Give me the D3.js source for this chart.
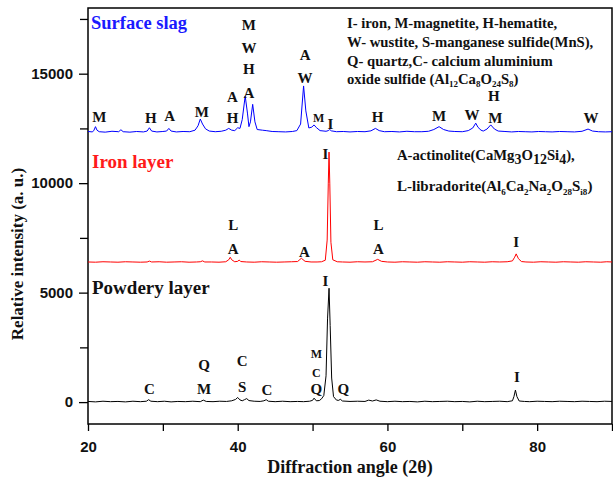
<!DOCTYPE html>
<html>
<head>
<meta charset="utf-8">
<script src="https://cdn.jsdelivr.net/npm/d3@7"></script>
<style>
  body {margin: 0; background: #fff;}
  text {font-family: "Liberation Serif", "Times New Roman", serif; font-weight: bold;}
  .tick text {font-family: "Liberation Sans", Arial, sans-serif; font-weight: bold; font-size: 15px;}
</style>
</head>
<body>
<script>
// XRD scans: [diffraction angle 2θ, intensity]
const slagScan = [
  [20,12360],[20.6,12340],[20.8,12420],[21.0,12580],[21.2,12420],[21.5,12350],[22.3,12330],[23.2,12370],
  [24.1,12350],[24.4,12440],[24.7,12350],[25.6,12330],[26.5,12360],[27.4,12340],[27.9,12380],[28.2,12530],
  [28.5,12380],[29.2,12340],[30.0,12360],[30.5,12380],[30.8,12500],[31.1,12380],[31.8,12340],[32.7,12360],
  [33.6,12350],[34.3,12420],[34.7,12620],[35.0,12930],[35.3,12700],[35.7,12480],[36.2,12380],[37.0,12350],
  [37.8,12370],[38.4,12420],[38.8,12500],[39.2,12420],[39.6,12400],[40.0,12530],[40.3,12500],[40.6,12900],
  [41.0,13980],[41.3,13200],[41.5,12580],[41.7,12800],[42.0,13600],[42.3,12800],[42.6,12450],[43.3,12420],
  [43.8,12400],[44.6,12360],[45.5,12350],[46.4,12340],[47.3,12360],[47.9,12400],[48.4,12700],[48.8,14440],
  [49.1,13300],[49.5,12520],[49.9,12560],[50.2,12660],[50.5,12540],[51.0,12400],[51.8,12370],[52.1,12400],
  [52.3,12450],[52.5,12390],[53.2,12350],[54.1,12360],[55.0,12340],[56.0,12360],[57.0,12350],[57.8,12390],
  [58.4,12500],[58.9,12400],[59.6,12350],[60.6,12360],[61.6,12340],[62.6,12370],[63.6,12350],[64.6,12350],
  [65.5,12370],[66.2,12450],[66.9,12580],[67.5,12450],[68.2,12380],[69.0,12360],[70.0,12350],[70.8,12400],
  [71.4,12520],[71.8,12740],[72.1,12550],[72.5,12420],[72.8,12380],[73.3,12470],[73.8,12660],[74.3,12470],
  [74.8,12380],[75.7,12360],[76.6,12340],[77.5,12360],[78.4,12350],[79.3,12340],[80.2,12360],[81.1,12350],
  [82.0,12340],[83.0,12360],[84.0,12350],[85.0,12340],[86.0,12370],[86.8,12470],[87.4,12380],[88.2,12350],
  [89.1,12340],[90,12350]
]
const ironScan = [
  [20,6400],[21,6390],[22,6410],[23,6400],[24,6390],[25,6410],[26,6400],[27,6390],[27.9,6400],[28.2,6440],
  [28.5,6400],[29.5,6410],[30.5,6390],[31.5,6400],[32.5,6410],[33.5,6390],[34.5,6400],[35.0,6410],[35.3,6450],
  [35.6,6400],[36.5,6400],[37.5,6390],[38.4,6410],[38.8,6500],[39.0,6615],[39.2,6500],[39.6,6410],[40.0,6430],
  [40.2,6490],[40.4,6420],[41.2,6400],[42.2,6390],[43.2,6410],[44.2,6400],[45.2,6390],[46.2,6400],[47.2,6410],
  [48.0,6420],[48.5,6570],[49.0,6430],[49.8,6400],[50.6,6400],[51.2,6410],[51.7,6480],[51.95,7400],[52.1,10000],
  [52.2,11420],[52.3,10000],[52.45,7300],[52.7,6500],[53.3,6410],[54.0,6400],[55,6390],[56,6410],[57,6400],
  [58.0,6410],[58.7,6520],[59.2,6430],[60,6400],[61,6390],[62,6410],[63,6400],[64,6390],[65,6410],[66,6400],
  [67,6390],[68,6410],[69,6400],[70,6390],[71,6410],[72,6400],[73,6390],[74,6410],[75,6400],[76,6410],
  [76.7,6450],[77.0,6620],[77.2,6770],[77.5,6550],[77.9,6420],[78.5,6400],[79.5,6390],[80.5,6410],[81.5,6400],
  [82.5,6390],[83.5,6410],[84.5,6400],[85.5,6390],[86.5,6410],[87.5,6400],[88.5,6390],[89.3,6410],[90,6400]
]
const powderScan = [
  [20,30],[21,10],[22,40],[23,20],[24,30],[25,10],[26,40],[27,20],[27.8,40],[28.1,110],[28.4,40],[29.3,20],
  [30.2,40],[31.1,10],[32.0,30],[33.0,20],[34.0,40],[35.0,20],[35.4,90],[35.8,30],[36.7,20],[37.6,40],
  [38.5,30],[39.2,60],[39.7,120],[40.0,210],[40.3,100],[40.6,60],[40.9,110],[41.2,160],[41.5,70],[42.2,40],
  [43.0,30],[43.5,60],[43.8,110],[44.1,40],[45.0,20],[46,40],[47,20],[48,30],[48.8,20],[49.6,40],[50.0,80],
  [50.2,180],[50.5,60],[50.9,70],[51.2,150],[51.5,300],[51.8,1200],[52.0,3800],[52.2,5200],[52.35,3500],
  [52.55,1100],[52.8,250],[53.2,90],[53.5,80],[53.7,130],[54.0,50],[55,30],[56,40],[57,30],[57.5,90],[58.0,50],
  [58.5,100],[59,40],[60,20],[61,40],[62,20],[63,30],[64,10],[65,40],[66,20],[67,30],[68,40],[69,20],[70,30],
  [71,10],[72,40],[73,20],[74,30],[75,40],[76,20],[76.7,60],[76.9,250],[77.1,550],[77.3,250],[77.6,50],
  [78.3,30],[79,20],[80,40],[81,30],[82,20],[83,40],[84,30],[85,20],[86,40],[87,30],[88,20],[89,40],[90,30]
]

// phase labels: [angle, intensity at text baseline, letter]
const slagLabels = [
  [21.5,12800,'M'],[28.4,12750,'H'],[30.9,12860,'A'],[35.2,13000,'M'],[39.3,13690,'A'],[39.3,12730,'H'],
  [41.5,17000,'M'],[41.5,15950,'W'],[41.5,15000,'H'],[41.5,13910,'A'],[49.0,15630,'A'],[49.0,14580,'W'],
  [52.4,12480,'I'],[58.7,12800,'H'],[66.9,12840,'M'],[71.3,12890,'W'],[74.2,13740,'H'],[74.4,12750,'M'],
  [87.2,12750,'W']
]
const slagSmallLabels = [[50.8,12800,'M']]
const ironLabels = [
  [51.7,11120,'I'],[39.4,7860,'L'],[39.4,6770,'A'],[48.9,6630,'A'],[58.8,7860,'L'],[58.8,6770,'A'],[77.2,7090,'I']
]
const powderLabels = [
  [51.7,5300,'I'],[28.2,380,'C'],[35.5,1470,'Q'],[35.5,380,'M'],[40.6,1630,'C'],[40.6,460,'S'],
  [43.9,330,'C'],[50.5,380,'Q'],[54.1,380,'Q'],[77.3,930,'I']
]
const powderSmallLabels = [[50.5,2010,'M'],[50.5,1160,'C']]

const xTicks = [20, 30, 40, 50, 60, 70, 80, 90]
const yMajorTicks = [0, 5000, 10000, 15000]
const yMinorTicks = [2500, 7500, 12500, 17500]

const phaseKey = [
  'I- iron, M-magnetite, H-hematite,',
  'W- wustite, S-manganese sulfide(MnS),',
  'Q- quartz,C- calcium aluminium',
  'oxide sulfide (Al_{12}Ca_{8}O_{24}S_{8})'
]
const ironKey = ['A-actinolite(CaMg_{3}O_{12}Si_{4}),', 'L-libradorite(Al_{6}Ca_{2}Na_{2}O_{28}S_{i8})']

const svg = d3.select('body').append('svg').attr('width', 613).attr('height', 477)
const margin = {top: 8, right: 1, bottom: 53, left: 88}
const width = 613 - margin.left - margin.right
const height = 477 - margin.top - margin.bottom

const x = d3.scaleLinear().domain([20, 90]).range([margin.left, margin.left + width])
const y = d3.scaleLinear().domain([-1000, 18000]).range([margin.top + height, margin.top])

// axes
svg.append('g').attr('transform', `translate(0,${margin.top + height})`)
  .call(d3.axisBottom(x).tickValues(xTicks).tickSize(7).tickPadding(10)
    .tickFormat(d => d % 20 === 0 && d < 90 ? d : ''))
svg.append('g').attr('transform', `translate(${margin.left},0)`)
  .call(d3.axisLeft(y).tickValues(yMajorTicks).tickSize(9).tickPadding(6).tickFormat(d3.format('d')))
svg.append('g').attr('transform', `translate(${margin.left},0)`)
  .call(d3.axisLeft(y).tickValues(yMinorTicks).tickSize(8).tickFormat(''))
svg.selectAll('.domain').remove()
svg.selectAll('.tick line').attr('stroke', '#000').attr('stroke-width', 1.3)
svg.selectAll('.tick text').attr('fill', '#111')

// frame
svg.append('rect')
  .attr('x', margin.left).attr('y', margin.top)
  .attr('width', width).attr('height', height)
  .attr('fill', 'none').attr('stroke', '#000').attr('stroke-width', 1.5)

const line = d3.line().x(d => x(d[0])).y(d => y(d[1]))
const scans = [
  {data: slagScan, color: '#0000ff'},
  {data: ironScan, color: '#ff0000'},
  {data: powderScan, color: '#000'}
]
svg.append('g').selectAll('path').data(scans).enter().append('path')
  .attr('d', d => line(d.data))
  .attr('fill', 'none')
  .attr('stroke', d => d.color)
  .attr('stroke-width', 1)

// peak letters
function letters(data, size) {
  svg.append('g').selectAll('text').data(data).enter().append('text')
    .attr('x', d => x(d[0])).attr('y', d => y(d[1]))
    .attr('text-anchor', 'middle').attr('font-size', size).attr('fill', '#111')
    .text(d => d[2])
}
letters(slagLabels, 15)
letters(slagSmallLabels, 12)
letters(ironLabels, 15)
letters(powderLabels, 15)
letters(powderSmallLabels, 12)

// text with _{sub} parts
function richText(str, px, py, size, subSize, shift) {
  const t = svg.append('text').attr('x', px).attr('y', py).attr('font-size', size).attr('fill', '#111')
  const parts = str.split(/_\{|\}/)
  parts.forEach((p, i) => {
    if (p === '') return
    const sub = i % 2 === 1
    const prevSub = i > 0 && (i - 1) % 2 === 1
    t.append('tspan').text(p)
      .attr('font-size', sub ? subSize : size)
      .attr('dy', sub ? shift : (prevSub ? -shift : 0))
  })
}
phaseKey.forEach((s, i) => richText(s, 347, [28, 47, 66, 84][i], 14.7, 9, 3))
richText(ironKey[0], 397, 160, 14.7, 14, 4)
richText(ironKey[1], 397, 191, 15, 9, 4)

// layer titles
svg.append('text').attr('x', 91).attr('y', 29).attr('font-size', 18.5).attr('fill', '#1a1aff').text('Surface slag')
svg.append('text').attr('x', 92).attr('y', 168).attr('font-size', 19).attr('fill', '#ff1a1a').text('Iron layer')
svg.append('text').attr('x', 92).attr('y', 294).attr('font-size', 19).attr('fill', '#111').text('Powdery layer')

// axis titles
svg.append('text').attr('x', margin.left + width / 2).attr('y', 473)
  .attr('text-anchor', 'middle').attr('font-size', 18).attr('fill', '#111')
  .text('Diffraction angle (2θ)')
svg.append('text').attr('transform', 'translate(23,254) rotate(-90)')
  .attr('text-anchor', 'middle').attr('font-size', 17).attr('fill', '#111')
  .text('Relative intensity (a. u.)')
</script>
</body>
</html>
